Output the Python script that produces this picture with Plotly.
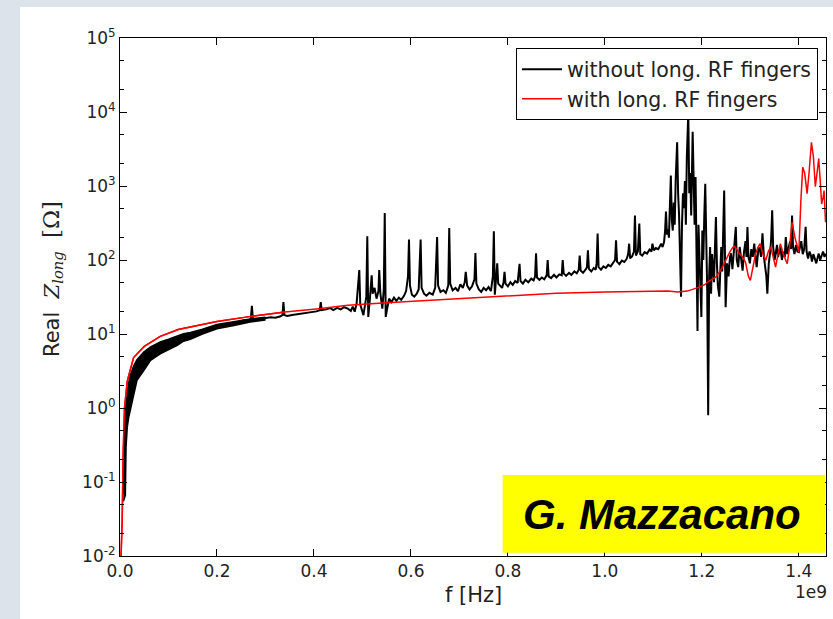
import numpy as np
import plotly.graph_objects as go

# ---------------- data (frequency in units of 1e9 Hz) ----------------
band_f = [0.0070, 0.0080, 0.0095, 0.0110, 0.0125, 0.0150, 0.0180, 0.0216, 0.0280, 0.0350,
          0.0490, 0.0630, 0.0830, 0.1000, 0.1180, 0.1310, 0.1450, 0.1700, 0.2000, 0.2350,
          0.2685, 0.3000]
band_hi = [0.07, 0.20, 0.60, 0.90, 1.15, 1.60, 2.20, 2.80, 3.70, 4.50,
           5.70, 6.70, 7.80, 8.50, 9.30, 10.1, 10.5, 11.6, 13.5, 14.8,
           16.0, 16.8]
band_lo = [0.055, 0.058, 0.062, 0.066, 0.30, 0.55, 0.75, 0.95, 1.60, 2.37,
           3.20, 4.40, 5.40, 6.10, 7.00, 8.00, 8.50, 10.0, 11.8, 13.0,
           14.5, 15.5]

black_f = [
    0.250, 0.256, 0.262, 0.268, 0.270, 0.272, 0.274, 0.280, 0.290, 0.300,
    0.310, 0.320, 0.330, 0.335, 0.337, 0.339, 0.345, 0.355, 0.365, 0.375,
    0.385, 0.395, 0.405, 0.412, 0.414, 0.416, 0.425, 0.433, 0.440, 0.448,
    0.455, 0.462, 0.470, 0.476, 0.480, 0.484, 0.488, 0.4935, 0.4955, 0.499,
    0.502, 0.505, 0.508, 0.510, 0.512, 0.515, 0.517, 0.519, 0.521, 0.525,
    0.529, 0.533, 0.5346, 0.537, 0.541, 0.544, 0.546, 0.548, 0.551, 0.555,
    0.560, 0.565, 0.570, 0.575, 0.580, 0.586, 0.590, 0.594, 0.596, 0.598,
    0.602, 0.607, 0.612, 0.616, 0.620, 0.622, 0.627, 0.632, 0.638, 0.645,
    0.650, 0.654, 0.656, 0.661, 0.667, 0.672, 0.677, 0.679, 0.681, 0.686,
    0.692, 0.697, 0.702, 0.707, 0.711, 0.713, 0.716, 0.721, 0.726, 0.731,
    0.733, 0.735, 0.740, 0.745, 0.750, 0.755, 0.760, 0.765, 0.769, 0.771,
    0.773, 0.776, 0.778, 0.780, 0.784, 0.788, 0.791, 0.793, 0.795, 0.800,
    0.805, 0.810, 0.815, 0.820, 0.824, 0.826, 0.831, 0.836, 0.842, 0.848,
    0.853, 0.856, 0.858, 0.860, 0.865, 0.870, 0.875, 0.880, 0.882, 0.884,
    0.889, 0.895, 0.900, 0.906, 0.911, 0.913, 0.915, 0.920, 0.926, 0.931,
    0.937, 0.942, 0.946, 0.948, 0.950, 0.955, 0.960, 0.963, 0.965, 0.967,
    0.972, 0.977, 0.981, 0.983, 0.985, 0.987, 0.992, 0.997, 1.002, 1.007,
    1.012, 1.017, 1.021, 1.023, 1.025, 1.030, 1.035, 1.040, 1.045, 1.048,
    1.050, 1.052, 1.056, 1.060, 1.062, 1.064, 1.068, 1.071, 1.073, 1.077,
    1.082, 1.087, 1.092, 1.096, 1.098, 1.101, 1.105, 1.110, 1.114, 1.116,
    1.119, 1.122, 1.124, 1.126, 1.128, 1.130, 1.132, 1.134, 1.136, 1.138,
    1.140, 1.142, 1.144, 1.146, 1.149, 1.151, 1.153, 1.155, 1.157, 1.159,
    1.161, 1.163, 1.165, 1.167, 1.169, 1.172, 1.174, 1.176, 1.178, 1.181,
    1.183, 1.185, 1.187, 1.189, 1.191, 1.193, 1.195, 1.197, 1.199, 1.201,
    1.203, 1.205, 1.207, 1.209, 1.211, 1.213, 1.215, 1.217, 1.219, 1.221,
    1.223, 1.225, 1.227, 1.229, 1.231, 1.233, 1.236, 1.238, 1.240, 1.242,
    1.244, 1.246, 1.248, 1.249, 1.252, 1.255, 1.258, 1.260, 1.263, 1.266,
    1.270, 1.272, 1.275, 1.278, 1.281, 1.284, 1.287, 1.290, 1.292, 1.294,
    1.296, 1.299, 1.302, 1.305, 1.308, 1.311, 1.313, 1.316, 1.319, 1.322,
    1.325, 1.328, 1.330, 1.333, 1.335, 1.338, 1.341, 1.343, 1.345, 1.347,
    1.350, 1.353, 1.355, 1.357, 1.359, 1.362, 1.365, 1.368, 1.371, 1.373,
    1.376, 1.379, 1.382, 1.384, 1.386, 1.388, 1.391, 1.394, 1.397, 1.400,
    1.403, 1.405, 1.408, 1.411, 1.414, 1.416, 1.419, 1.422, 1.425, 1.427,
    1.430, 1.433, 1.436, 1.439, 1.441, 1.444, 1.447, 1.450, 1.453, 1.455]
black_z = [
    15.0, 15.3, 15.0, 15.6, 16.5, 24.0, 16.0, 15.6, 16.0, 16.3,
    16.8, 16.6, 17.2, 18.0, 27.0, 18.0, 17.5, 18.0, 18.4, 18.8,
    19.2, 19.6, 20.2, 21.0, 27.0, 21.0, 21.5, 22.5, 21.0, 22.5,
    21.5, 23.0, 22.0, 20.5, 23.5, 20.0, 26.0, 73.0, 25.0, 21.0,
    18.0, 24.0, 32.0, 210.0, 17.0, 28.0, 40.0, 62.0, 35.0, 42.0,
    30.0, 38.0, 73.0, 35.0, 22.0, 40.0, 430.0, 17.0, 22.0, 30.0,
    27.0, 31.0, 28.0, 31.0, 29.0, 33.0, 38.0, 60.0, 189.0, 45.0,
    34.0, 32.0, 35.0, 40.0, 189.0, 42.0, 35.0, 33.0, 36.0, 34.0,
    42.0, 204.0, 45.0, 37.0, 39.0, 36.0, 45.0, 270.0, 48.0, 39.0,
    42.0, 38.0, 47.0, 42.0, 50.0, 69.0, 45.0, 40.0, 44.0, 55.0,
    124.0, 48.0, 40.0, 37.0, 42.0, 39.0, 43.0, 38.0, 60.0, 245.0,
    34.0, 55.0, 90.0, 48.0, 45.0, 42.0, 50.0, 69.0, 48.0, 44.0,
    50.0, 46.0, 52.0, 49.0, 89.0, 52.0, 48.0, 54.0, 50.0, 56.0,
    53.0, 60.0, 123.0, 58.0, 54.0, 58.0, 55.0, 62.0, 100.0, 60.0,
    57.0, 63.0, 58.0, 64.0, 62.0, 100.0, 66.0, 61.0, 67.0, 63.0,
    70.0, 66.0, 74.0, 115.0, 72.0, 67.0, 74.0, 80.0, 135.0, 76.0,
    70.0, 78.0, 74.0, 90.0, 228.0, 80.0, 74.0, 82.0, 78.0, 86.0,
    82.0, 92.0, 100.0, 185.0, 95.0, 88.0, 98.0, 94.0, 104.0, 120.0,
    166.0, 105.0, 112.0, 130.0, 400.0, 115.0, 130.0, 310.0, 120.0, 115.0,
    128.0, 122.0, 138.0, 130.0, 166.0, 135.0, 145.0, 140.0, 155.0, 166.0,
    150.0, 175.0, 240.0, 450.0, 220.0, 260.0, 200.0, 425.0, 1390.0, 350.0,
    250.0, 600.0, 300.0, 1200.0, 3900.0, 800.0, 400.0, 110.0, 32.0, 300.0,
    800.0, 500.0, 1170.0, 300.0, 2500.0, 9600.0, 800.0, 1500.0, 400.0, 5400.0,
    700.0, 300.0, 1320.0, 150.0, 11.0, 300.0, 120.0, 60.0, 17.0, 250.0,
    100.0, 400.0, 1070.0, 200.0, 40.0, 0.8, 60.0, 150.0, 35.0, 120.0,
    70.0, 50.0, 150.0, 380.0, 90.0, 45.0, 32.0, 90.0, 150.0, 70.0,
    200.0, 870.0, 80.0, 23.0, 90.0, 60.0, 110.0, 123.0, 75.0, 140.0,
    280.0, 100.0, 80.0, 150.0, 100.0, 72.0, 130.0, 180.0, 110.0, 280.0,
    110.0, 90.0, 140.0, 110.0, 166.0, 95.0, 80.0, 130.0, 150.0, 110.0,
    230.0, 110.0, 90.0, 60.0, 35.0, 90.0, 130.0, 200.0, 470.0, 150.0,
    100.0, 130.0, 160.0, 110.0, 122.0, 150.0, 100.0, 130.0, 110.0, 204.0,
    120.0, 150.0, 180.0, 140.0, 400.0, 150.0, 120.0, 160.0, 130.0, 128.0,
    150.0, 180.0, 120.0, 140.0, 280.0, 130.0, 105.0, 130.0, 115.0, 95.0,
    120.0, 100.0, 90.0, 110.0, 122.0, 100.0, 115.0, 130.0, 110.0, 122.0]

red_f = [0.0020, 0.0045, 0.0066, 0.0093, 0.0150, 0.0280, 0.0500, 0.0830, 0.1200, 0.2000,
         0.2700, 0.3400, 0.4100, 0.4700, 0.5500, 0.6500, 0.7200, 0.8000, 0.9000, 1.0000,
         1.1300, 1.1500, 1.1700, 1.1900, 1.2050, 1.2150, 1.2290, 1.2400, 1.2490, 1.2580,
         1.2660, 1.2720, 1.2770, 1.2840, 1.2900, 1.2960, 1.3000, 1.3050, 1.3110, 1.3160,
         1.3200, 1.3260, 1.3320, 1.3370, 1.3420, 1.3470, 1.3520, 1.3570, 1.3620, 1.3680,
         1.3760, 1.3810, 1.3860, 1.3920, 1.4000, 1.4040, 1.4080, 1.4120, 1.4170, 1.4210,
         1.4260, 1.4300, 1.4340, 1.4370, 1.4410, 1.4440, 1.4470, 1.4500, 1.4520, 1.4550]
red_z = [0.009, 0.03, 0.25, 1.0, 2.3, 4.8, 6.8, 9.3, 11.5, 14.8,
         17.3, 19.8, 22.0, 24.5, 26.5, 28.8, 31.0, 33.0, 35.5, 37.0,
         38.0, 37.0, 38.0, 42.0, 46.0, 52.0, 59.0, 75.0, 99.0, 130.0,
         155.0, 140.0, 123.0, 110.0, 93.0, 60.0, 53.0, 80.0, 123.0, 150.0,
         166.0, 120.0, 99.0, 130.0, 150.0, 110.0, 80.0, 120.0, 166.0, 120.0,
         89.0, 150.0, 324.0, 200.0, 128.0, 600.0, 1800.0, 1500.0, 790.0, 1500.0,
         3900.0, 2500.0, 980.0, 1400.0, 2350.0, 1200.0, 570.0, 700.0, 870.0, 324.0]

x_tick_vals = [0.0, 0.2, 0.4, 0.6, 0.8, 1.0, 1.2, 1.4]
x_tick_text = ["0.0", "0.2", "0.4", "0.6", "0.8", "1.0", "1.2", "1.4"]
y_tick_vals = [1e-2, 1e-1, 1e0, 1e1, 1e2, 1e3, 1e4, 1e5]
y_tick_text = ["10<sup>-2</sup>", "10<sup>-1</sup>", "10<sup>0</sup>", "10<sup>1</sup>",
               "10<sup>2</sup>", "10<sup>3</sup>", "10<sup>4</sup>", "10<sup>5</sup>"]

GHZ = 1e9
FONT = "DejaVu Sans"

fig = go.Figure()

fig.add_trace(go.Scatter(x=np.array(black_f) * GHZ, y=black_z, mode="lines",
                         name="without long. RF fingers",
                         line=dict(color="black", width=2)))
fig.add_trace(go.Scatter(x=np.array(red_f) * GHZ, y=red_z, mode="lines",
                         name="with long. RF fingers",
                         line=dict(color="#ff0000", width=1.5)))
# black noisy band at low frequency (upper + lower envelope of the black curve)
fig.add_trace(go.Scatter(x=np.array(band_f) * GHZ, y=band_hi, mode="lines",
                         line=dict(color="black", width=1.5), showlegend=False,
                         hoverinfo="skip"))
fig.add_trace(go.Scatter(x=np.array(band_f) * GHZ, y=band_lo, mode="lines",
                         line=dict(color="black", width=1.5), fill="tonexty",
                         fillcolor="black", showlegend=False, hoverinfo="skip"))
# redraw red on top of the band
fig.add_trace(go.Scatter(x=np.array(red_f[:12]) * GHZ, y=red_z[:12], mode="lines",
                         showlegend=False, hoverinfo="skip",
                         line=dict(color="#ff0000", width=1.5)))

W, H = 833, 619
L, R, T, B = 120, 7, 38, 63
pw, ph = W - L - R, H - T - B


def px(x):
    return (x - L) / pw


def py(y):
    return 1 - (y - T) / ph


shapes = [
    dict(type="rect", xref="paper", yref="paper", x0=px(0), x1=px(20), y0=py(H), y1=py(0),
         fillcolor="#dce3ea", line=dict(width=0), layer="below"),
    dict(type="rect", xref="paper", yref="paper", x0=px(0), x1=px(W), y0=py(7), y1=py(0),
         fillcolor="#dce3ea", line=dict(width=0), layer="below"),
    dict(type="rect", xref="paper", yref="paper", x0=px(502.7), x1=px(825), y0=py(552.7),
         y1=py(475), fillcolor="#ffff00", line=dict(width=0), layer="above"),
]

ylabel = ("Real&nbsp; <span style=\"font-family:'DejaVu Serif'\"><i>Z</i><sub><i>long</i></sub>"
          "&nbsp;&nbsp;<span style=\"font-size:23px\">[Ω]</span></span>")

annotations = [
    dict(text="<b><i>G. Mazzacano</i></b>", xref="paper", yref="paper",
         x=px(662.4), y=py(514), xanchor="center", yanchor="middle", showarrow=False,
         font=dict(family="Liberation Sans", size=42, color="black")),
    dict(text="f [Hz]", xref="paper", yref="paper", x=px(473), y=py(595),
         xanchor="center", yanchor="middle",
         showarrow=False, font=dict(family=FONT, size=21, color="#222")),
    dict(text="1e9", xref="paper", yref="paper", x=px(811), y=py(592),
         xanchor="center", yanchor="middle",
         showarrow=False, font=dict(family=FONT, size=17, color="#222")),
    dict(text=ylabel, xref="paper", yref="paper", x=px(52), y=py(279), textangle=-90,
         xanchor="center", yanchor="middle",
         showarrow=False, font=dict(family=FONT, size=21, color="#222")),
]

fig.update_layout(
    width=W, height=H,
    margin=dict(l=L, r=R, t=T, b=B, pad=0),
    paper_bgcolor="white", plot_bgcolor="white",
    font=dict(family=FONT, size=17, color="#222"),
    shapes=shapes, annotations=annotations,
    legend=dict(x=px(818), y=py(48.3), xanchor="right", yanchor="top",
                traceorder="normal",
                bgcolor="white", bordercolor="black", borderwidth=1,
                font=dict(family=FONT, size=20.5, color="#222"),
                tracegroupgap=0, itemwidth=40),
)

fig.update_xaxes(range=[0, 1.456 * GHZ], tickvals=[v * GHZ for v in x_tick_vals],
                 ticktext=x_tick_text, ticks="inside", ticklen=7, tickcolor="black",
                 showline=True, linecolor="black", linewidth=1, mirror="allticks",
                 showgrid=False, zeroline=False, tickfont=dict(size=17))
fig.update_yaxes(type="log", range=[-2, 5], tickvals=y_tick_vals, ticktext=y_tick_text,
                 ticks="inside", ticklen=7, tickcolor="black",
                 showline=True, linecolor="black", linewidth=1, mirror="allticks",
                 showgrid=False, zeroline=False, tickfont=dict(size=17),
                 minor=dict(ticks="inside", ticklen=4, tickcolor="black", showgrid=False))

fig.write_html("out.html", config={"displayModeBar": False},
               post_script="document.body.style.margin='0';document.body.style.padding='0';")
